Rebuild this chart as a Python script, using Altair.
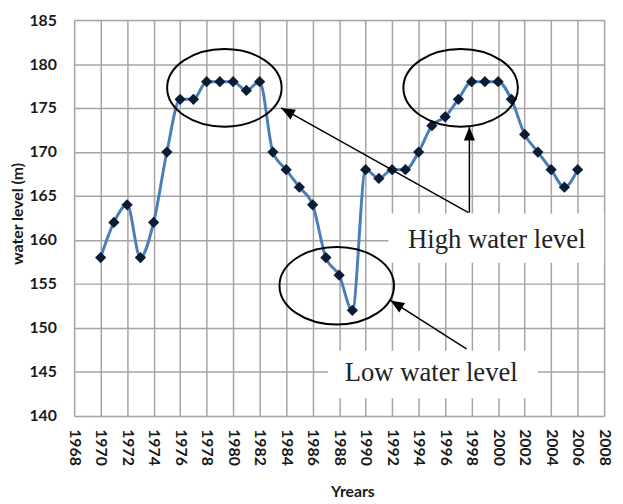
import altair as alt
import pandas as pd

# ---- data ----
years = list(range(1970, 2007))
levels = [158, 162, 164, 158, 162, 170, 176, 176, 178, 178,
          178, 177, 178, 170, 168, 166, 164, 158, 156, 152,
          168, 167, 168, 168, 170, 173, 174, 176, 178, 178,
          178, 176, 172, 170, 168, 166, 168]

x_ticks = list(range(1968, 2009, 2))
y_ticks = [140, 145, 150, 155, 160, 165, 170, 175, 180, 185]

# annotation positions (in data units)
ellipse_x = [1979.34, 1997.17, 1987.82]
ellipse_y = [177.3, 177.3, 154.8]

label_text = ["High water level", "Low water level"]
label_x = [1999.9, 1994.95]
label_y = [159.97, 144.83]
box_x = [1991.72, 1987.15]
box_x2 = [2008.0, 2002.99]
box_y = [163.0, 147.41]
box_y2 = [157.4, 142.02]

arrow_x = [1997.76, 1997.83, 1997.61]
arrow_y = [163.12, 163.12, 147.63]
arrow_x2 = [1983.62, 1997.83, 1991.87]
arrow_y2 = [175.01, 172.88, 153.13]
arrow_angle = [299, 0, 302]

df = pd.DataFrame({"year": years, "level": levels})
ell = pd.DataFrame({"x": ellipse_x, "y": ellipse_y})
lab = pd.DataFrame({"t": label_text, "x": label_x, "y": label_y,
                    "bx": box_x, "bx2": box_x2, "by": box_y, "by2": box_y2})
arr = pd.DataFrame({"x": arrow_x, "y": arrow_y, "x2": arrow_x2, "y2": arrow_y2,
                    "a": arrow_angle})

xscale = alt.Scale(domain=[1968, 2008], nice=False, zero=False)
yscale = alt.Scale(domain=[140, 185], nice=False, zero=False)

W = 537
xaxis = alt.Axis(values=x_ticks, format="d", labelAngle=90, grid=True,
                 ticks=False, domain=False, labelPadding=13, labelOverlap=False,
                 labelFont="Lato", labelFontWeight="bold", labelFontSize=16,
                 labelColor="#1a1a1a", title="Yrears", titleFont="Lato",
                 titleFontWeight="bold", titleFontSize=16, titleColor="#1a1a1a",
                 titleX=282, titleY=82, titleBaseline="alphabetic",
                 titleAlign="center", gridColor="#a4a4a4", gridWidth=1.5)
yaxis = alt.Axis(values=y_ticks, grid=True, ticks=False, domain=False,
                 labelPadding=18, labelOverlap=False, labelFont="Lato",
                 labelFontWeight="bold", labelFontSize=16, labelColor="#1a1a1a",
                 title="water level (m)", titleFont="Lato",
                 titleFontWeight="bold", titleFontSize=16, titleColor="#1a1a1a",
                 titleX=-57, titleY=196, titleAngle=270,
                 titleBaseline="middle", titleAlign="center",
                 gridColor="#a4a4a4", gridWidth=1.5)


def X(field):
    return alt.X(field, scale=xscale, axis=xaxis, title="Yrears")


def Y(field):
    return alt.Y(field, scale=yscale, axis=yaxis, title="water level (m)")


line = alt.Chart(df).mark_line(color="#4a7ebb", strokeWidth=3,
                               interpolate="monotone").encode(
    x=X("year:Q"), y=Y("level:Q"))
pts = alt.Chart(df).mark_point(shape="diamond", filled=True, color="#0d1b33",
                               size=130, opacity=1).encode(
    x=X("year:Q"), y=Y("level:Q"))

boxes = alt.Chart(lab).mark_rect(color="white").encode(
    x=X("bx:Q"), x2="bx2:Q", y=Y("by:Q"), y2="by2:Q")

ellipse_path = ("M1,0 C1,0.3745 0.5523,0.678 0,0.678 C-0.5523,0.678 -1,0.3745 -1,0 "
                "C-1,-0.3745 -0.5523,-0.678 0,-0.678 C0.5523,-0.678 1,-0.3745 1,0 Z")
ellipses = alt.Chart(ell).mark_point(shape=ellipse_path, filled=False,
                                     color="black", strokeWidth=2, size=13456,
                                     opacity=1).encode(
    x=X("x:Q"), y=Y("y:Q"))

rules = alt.Chart(arr).mark_rule(color="black", strokeWidth=1.5).encode(
    x=X("x:Q"), y=Y("y:Q"), x2="x2:Q", y2="y2:Q")
heads = alt.Chart(arr).mark_point(shape="M0,0 L-0.4,1 L0.4,1 Z", filled=True,
                                  color="black", size=784, opacity=1).encode(
    x=X("x2:Q"), y=Y("y2:Q"), angle=alt.Angle("a:Q", scale=None))

texts = alt.Chart(lab).mark_text(font="Liberation Serif", fontSize=27,
                                 color="#222222", baseline="middle",
                                 align="center").encode(
    x=X("x:Q"), y=Y("y:Q"), text="t:N")

chart = alt.layer(boxes, line, pts, ellipses, rules, heads, texts).properties(
    width=W, height=401,
    autosize=alt.AutoSizeParams(type="none"),
    padding={"left": 67, "top": 9, "right": 11, "bottom": 86},
).configure_view(strokeWidth=0).configure(background="white")

chart.save("out.html", embed_options={"renderer": "svg", "actions": False})
